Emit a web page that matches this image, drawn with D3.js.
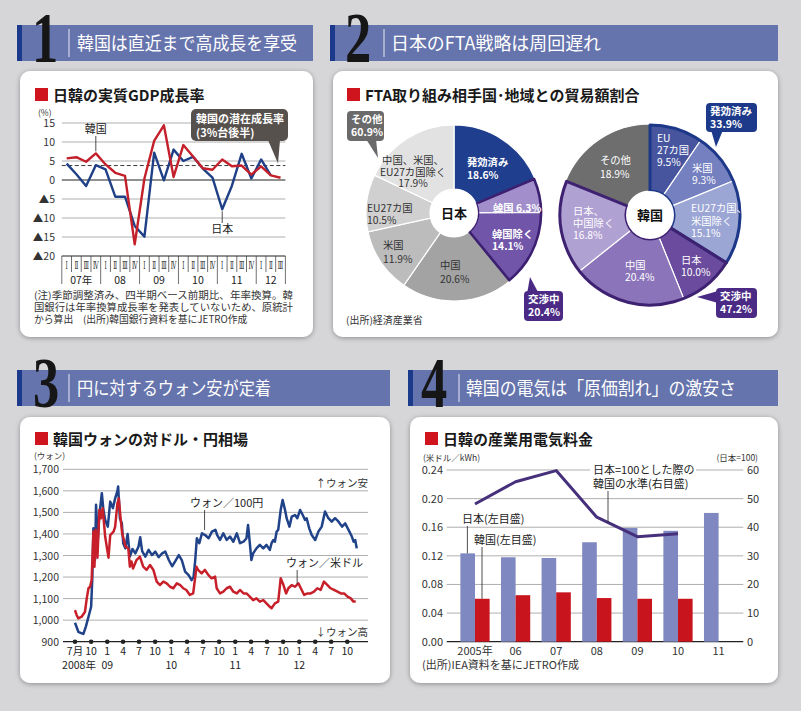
<!DOCTYPE html>
<html><head><meta charset="utf-8">
<script src="https://cdn.jsdelivr.net/npm/d3@7/dist/d3.min.js"></script>
<style>
html,body{margin:0;padding:0;background:#d6d6d8;}
svg{display:block;font-family:"Noto Sans CJK JP","Noto Sans",sans-serif;}
</style></head><body>
<svg id="c" width="801" height="711"></svg>
<script>
// ================= DATA =================
const headerNumbers = ["1","2","3","4"];
const headerTitles = ["韓国は直近まで高成長を享受","日本のFTA戦略は周回遅れ","円に対するウォン安が定着","韓国の電気は「原価割れ」の激安さ"];
const chartTitles = ["日韓の実質GDP成長率","FTA取り組み相手国･地域との貿易額割合","韓国ウォンの対ドル・円相場","日韓の産業用電気料金"];

// Chart 1: real GDP growth (quarterly, annualized %)
const gdpYearLabels = ["07年","08","09","10","11","12"];
const gdpQuarterLabels = ["Ⅰ","Ⅱ","Ⅲ","Ⅳ"];
const gdpKorea = [5.7,6.0,4.8,7.0, 4.1,1.9,1.1,-16.9, 0.4,10.3,14.4,0.8, 9.2,6.2,3.1,2.7, 5.4,3.6,3.8,1.4, 3.6,1.2,0.6];
const gdpJapan = [4.3,1.5,-1.6,3.9, 2.8,-4.4,-4.4,-12.1, -14.9,7.2,-0.1,8.0, 5.0,6.1,3.0,0.6, -7.7,-1.5,6.9,0.4, 5.4,1.2];
const gdpPotential = 3.8;
const gdpTicks = [15,10,5,0,-5,-10,-15,-20];
const gdpNotes = ["(注)季節調整済み、四半期ベース前期比、年率換算。韓","国銀行は年率換算成長率を発表していないため、原統計","から算出　(出所)韓国銀行資料を基にJETRO作成"];

// Chart 2: FTA trade shares
const ftaJapanNames = [["発効済み"],["韓国"],["韓国除く"],["中国"],["米国"],["EU27カ国"],["中国、米国、","EU27カ国除く"]];
const ftaJapanValues = [18.6,6.3,14.1,20.6,11.9,10.5,17.9];
const ftaJapanGroups = [["その他","60.9%"],["交渉中","20.4%"]];
const ftaKoreaNames = [["EU","27カ国"],["米国"],["EU27カ国、","米国除く"],["日本"],["中国"],["日本、","中国除く"],["その他"]];
const ftaKoreaValues = [9.5,9.3,15.1,10.0,20.4,16.8,18.9];
const ftaKoreaGroups = [["発効済み","33.9%"],["交渉中","47.2%"]];

// Chart 3: won exchange rates
const wonJpy = [["2008-07-01",988],["2008-07-20",946],["2008-08-08",939],["2008-08-18",936],["2008-09-01",970],["2008-09-16",1016],["2008-10-01",1062],["2008-10-08",1200],["2008-10-14",1426],["2008-10-23",1279],["2008-10-29",1535],["2008-11-08",1372],["2008-11-16",1480],["2008-12-01",1589],["2008-12-10",1511],["2008-12-20",1465],["2009-01-04",1434],["2009-01-18",1550],["2009-02-02",1520],["2009-02-15",1565],["2009-02-28",1600],["2009-03-04",1620],["2009-03-14",1473],["2009-03-25",1450],["2009-04-02",1357],["2009-04-14",1333],["2009-04-27",1400],["2009-05-10",1295],["2009-05-25",1330],["2009-06-10",1310],["2009-06-28",1341],["2009-07-08",1385],["2009-07-19",1320],["2009-08-06",1295],["2009-08-25",1326],["2009-09-13",1302],["2009-10-02",1318],["2009-10-21",1292],["2009-11-10",1310],["2009-11-28",1318],["2009-12-18",1279],["2010-01-06",1250],["2010-01-25",1275],["2010-02-13",1302],["2010-03-02",1279],["2010-03-21",1225],["2010-04-10",1209],["2010-04-27",1186],["2010-05-08",1200],["2010-05-17",1272],["2010-05-27",1380],["2010-06-10",1357],["2010-06-25",1403],["2010-07-13",1395],["2010-08-02",1380],["2010-08-21",1411],["2010-09-10",1419],["2010-09-20",1395],["2010-10-06",1372],["2010-10-25",1403],["2010-11-13",1372],["2010-12-02",1388],["2010-12-21",1364],["2011-01-10",1403],["2011-01-28",1357],["2011-02-17",1364],["2011-03-06",1380],["2011-03-15",1442],["2011-03-25",1357],["2011-04-03",1279],["2011-04-13",1310],["2011-05-02",1333],["2011-05-21",1349],["2011-06-10",1333],["2011-06-28",1349],["2011-07-17",1326],["2011-07-27",1357],["2011-08-06",1372],["2011-08-15",1364],["2011-08-25",1411],["2011-09-03",1419],["2011-09-17",1511],["2011-09-28",1558],["2011-10-12",1511],["2011-10-21",1473],["2011-11-06",1434],["2011-11-19",1480],["2011-12-08",1488],["2011-12-21",1473],["2012-01-06",1511],["2012-01-21",1488],["2012-02-03",1465],["2012-02-12",1473],["2012-02-27",1426],["2012-03-12",1395],["2012-04-01",1372],["2012-04-19",1411],["2012-05-08",1434],["2012-05-27",1504],["2012-06-15",1473],["2012-07-04",1457],["2012-07-23",1473],["2012-08-12",1457],["2012-09-01",1434],["2012-09-19",1449],["2012-10-08",1419],["2012-10-27",1388],["2012-11-06",1364],["2012-11-15",1372],["2012-11-24",1333]];
const wonUsd = [["2008-07-01",1047],["2008-07-10",1024],["2008-07-20",1008],["2008-08-08",1016],["2008-08-27",1039],["2008-09-06",1101],["2008-09-16",1148],["2008-09-25",1155],["2008-10-04",1186],["2008-10-14",1411],["2008-10-20",1248],["2008-10-27",1419],["2008-11-06",1290],["2008-11-17",1511],["2008-11-26",1473],["2008-12-06",1519],["2008-12-20",1388],["2008-12-29",1341],["2009-01-08",1290],["2009-01-18",1395],["2009-02-06",1411],["2009-02-15",1434],["2009-02-28",1542],["2009-03-08",1565],["2009-03-17",1480],["2009-03-27",1403],["2009-04-06",1372],["2009-04-15",1341],["2009-05-01",1333],["2009-05-10",1248],["2009-05-19",1272],["2009-05-28",1240],["2009-06-17",1279],["2009-07-06",1295],["2009-07-25",1248],["2009-08-13",1233],["2009-09-02",1256],["2009-09-21",1233],["2009-10-10",1179],["2009-10-28",1163],["2009-11-17",1179],["2009-12-06",1171],["2009-12-25",1155],["2010-01-13",1148],["2010-02-02",1171],["2010-02-21",1163],["2010-03-10",1148],["2010-03-28",1140],["2010-04-17",1117],["2010-05-06",1124],["2010-05-25",1248],["2010-06-03",1233],["2010-06-23",1217],["2010-07-12",1233],["2010-08-01",1209],["2010-08-19",1194],["2010-09-08",1202],["2010-09-17",1148],["2010-10-06",1124],["2010-10-25",1132],["2010-11-13",1148],["2010-12-02",1155],["2010-12-21",1132],["2011-01-10",1124],["2011-01-28",1140],["2011-02-17",1124],["2011-03-06",1124],["2011-03-25",1109],["2011-04-13",1093],["2011-05-02",1101],["2011-05-21",1086],["2011-06-10",1093],["2011-06-28",1078],["2011-07-17",1062],["2011-07-27",1055],["2011-08-15",1078],["2011-09-03",1086],["2011-09-17",1194],["2011-10-03",1163],["2011-10-18",1124],["2011-10-31",1148],["2011-11-19",1163],["2011-12-08",1155],["2011-12-27",1171],["2012-01-10",1148],["2012-01-29",1117],["2012-02-17",1124],["2012-03-06",1124],["2012-03-25",1132],["2012-04-13",1148],["2012-05-02",1140],["2012-05-21",1179],["2012-06-10",1163],["2012-06-28",1148],["2012-07-17",1140],["2012-08-06",1132],["2012-08-25",1124],["2012-09-13",1124],["2012-10-02",1109],["2012-10-21",1101],["2012-11-05",1086],["2012-11-18",1086]];
const wonTicks = [900,1000,1100,1200,1300,1400,1500,1600,1700];
const wonMonthLabels = ["7月","10","1","4","7","10","1","4","7","10","1","4","7","10","1","4","7","10"];
const wonYearLabels = [["2008-07-01","2008年"],["2009-01-01","09"],["2010-01-01","10"],["2011-01-01","11"],["2012-01-01","12"]];
const wonSeriesLabels = ["ウォン／100円","ウォン／米ドル"];

// Chart 4: industrial electricity price
const elecYears = ["2005年","06","07","08","09","10","11"];
const elecJapan = [0.1235,0.118,0.117,0.139,0.159,0.155,0.180];
const elecKorea = [0.060,0.065,0.069,0.061,0.060,0.060,null];
const elecRatio = [48.1,55.9,59.8,43.5,36.7,37.7];
const elecLeftTicks = [0,0.04,0.08,0.12,0.16,0.20,0.24];
const elecRightTicks = [0,10,20,30,40,50,60];

// ================= DRAW =================
const svg = d3.select("#c");
const defs = svg.append("defs");
const flt = defs.append("filter").attr("id","sh").attr("x","-5%").attr("y","-5%").attr("width","110%").attr("height","112%");
flt.append("feDropShadow").attr("dx",0).attr("dy",1).attr("stdDeviation",2.5).attr("flood-color","#000").attr("flood-opacity",0.35);

function txt(g, x, y, s, o) {
  o = o || {};
  const t = g.append("text").attr("x",x).attr("y",y).text(s)
    .attr("font-size", o.size || 11).attr("fill", o.fill || "#222")
    .attr("text-anchor", o.anchor || "start");
  if (o.weight) t.attr("font-weight", o.weight);
  if (o.len) t.attr("textLength", o.len).attr("lengthAdjust","spacingAndGlyphs");
  return t;
}

// ---- headers ----
const HB = "#6674ad", STRIPE = "#1b3a8c";
const headers = [
  {x0:17,x1:313,y0:25,numX:45,sepX:69,tX:77,tLen:220},
  {x0:330,x1:778,y0:25,numX:358,sepX:384,tX:391,tLen:210},
  {x0:17,x1:390,y0:370,numX:46,sepX:69,tX:77,tLen:194},
  {x0:408,x1:778,y0:370,numX:434,sepX:459,tX:466,tLen:270}
];
headers.forEach((h,i)=>{
  svg.append("rect").attr("x",h.x0).attr("y",h.y0).attr("width",h.x1-h.x0).attr("height",36).attr("fill",HB);
  svg.append("rect").attr("x",h.x0).attr("y",h.y0).attr("width",5).attr("height",36).attr("fill",STRIPE);
  svg.append("text").attr("transform",`translate(${h.numX},${h.y0+37}) scale(0.82,1.12)`)
    .attr("text-anchor","middle").attr("font-family","Liberation Serif, DejaVu Serif, serif")
    .attr("font-weight","bold").attr("font-size",64).attr("fill","#161616").text(headerNumbers[i]);
  svg.append("line").attr("x1",h.sepX).attr("x2",h.sepX).attr("y1",h.y0+4).attr("y2",h.y0+32)
    .attr("stroke","#e8eaf4").attr("stroke-width",1);
  txt(svg,h.tX,h.y0+25,headerTitles[i],{size:18,fill:"#fff",len:h.tLen});
});

// ---- cards ----
const cards = [[20,71,293,266],[333,71,445,266],[20,417,370,266],[410,417,368,266]];
cards.forEach(c=>{
  svg.append("rect").attr("x",c[0]).attr("y",c[1]).attr("width",c[2]).attr("height",c[3])
    .attr("rx",10).attr("fill","#fff").attr("filter","url(#sh)");
});
const titlePos = [[35,88],[347,88],[35,432],[425,432]];
titlePos.forEach((p,i)=>{
  svg.append("rect").attr("x",p[0]).attr("y",p[1]).attr("width",13).attr("height",13).attr("fill","#d0141e");
  txt(svg,p[0]+18,p[1]+13,chartTitles[i],{size:15,weight:"bold",fill:"#1a1a1a"});
});

// ================= Chart 1 =================
(function(){
  const g = svg.append("g");
  const x = d3.scaleLinear().domain([-0.5,22.5]).range([61.8,285.4]);
  const y = d3.scaleLinear().domain([-20,15]).range([256,123]);
  gdpTicks.forEach(v=>{
    const dark = (v===0||v===-20);
    g.append("line").attr("x1",x(-0.5)).attr("x2",x(22.5)).attr("y1",y(v)).attr("y2",y(v))
      .attr("stroke",dark?"#222":"#8c8c8c").attr("stroke-width",dark?1.1:0.7);
    txt(g,55,y(v)+4,v<0?"▲"+(-v):String(v),{size:10.5,anchor:"end",fill:"#333"});
  });
  txt(g,38,116,"(%)",{size:8.5,fill:"#333"});
  for(let i=0;i<=23;i++){
    const xb = x(i-0.5);
    const yearB = (i%4===0 || i===23);
    g.append("line").attr("x1",xb).attr("x2",xb).attr("y1",256).attr("y2",yearB?284:272)
      .attr("stroke","#333").attr("stroke-width",0.7);
  }
  for(let i=0;i<23;i++){
    g.append("text").attr("transform",`translate(${x(i)},269) scale(0.7,1.3)`)
      .attr("text-anchor","middle").attr("font-size",8).attr("fill","#222")
      .attr("font-family","DejaVu Serif, serif").text(gdpQuarterLabels[i%4]);
  }
  gdpYearLabels.forEach((s,k)=>{
    const a = x(4*k-0.5), b = x(Math.min(4*k+3.5,22.5));
    txt(g,(a+b)/2,284,s,{size:10.5,anchor:"middle",fill:"#222"});
  });
  g.append("line").attr("x1",x(-0.5)).attr("x2",x(22.5)).attr("y1",y(gdpPotential)).attr("y2",y(gdpPotential))
    .attr("stroke","#222").attr("stroke-width",0.9).attr("stroke-dasharray","4,2.5");
  const line = d3.line().x((d,i)=>x(i)).y(d=>y(d));
  g.append("path").attr("d",line(gdpJapan)).attr("fill","none").attr("stroke","#1f3f86").attr("stroke-width",2.4).attr("stroke-linejoin","round");
  g.append("path").attr("d",line(gdpKorea)).attr("fill","none").attr("stroke","#c4202b").attr("stroke-width",2.4).attr("stroke-linejoin","round");
  txt(g,x(3),133,"韓国",{size:11,anchor:"middle"});
  g.append("line").attr("x1",x(3)).attr("x2",x(3)).attr("y1",136).attr("y2",y(gdpKorea[3])-2).attr("stroke","#222").attr("stroke-width",0.8);
  txt(g,x(16),233,"日本",{size:11,anchor:"middle"});
  g.append("line").attr("x1",x(16)).attr("x2",x(16)).attr("y1",y(gdpJapan[16])+2).attr("y2",223).attr("stroke","#222").attr("stroke-width",0.8);
  g.append("rect").attr("x",191).attr("y",109).attr("width",97).attr("height",32).attr("rx",5).attr("fill","#57514e");
  g.append("path").attr("d",`M268,140 L280,140 L278,${y(gdpPotential)-2} Z`).attr("fill","#57514e");
  txt(g,196,123,"韓国の潜在成長率",{size:11,fill:"#fff",weight:"bold"});
  txt(g,196,137,"(3%台後半)",{size:11,fill:"#fff",weight:"bold"});
  gdpNotes.forEach((s,i)=>txt(g,34,299+i*11.8,s,{size:9.8,fill:"#333",len: i<2?259:null}));
})();

// ================= Chart 2 =================
(function(){
  const g = svg.append("g");
  const pie = d3.pie().sort(null).value(d=>d);
  function donut(cx,cy,r,values,colors,groups){
    const gg = g.append("g").attr("transform",`translate(${cx},${cy})`);
    const arcs = pie(values);
    const arc = d3.arc().innerRadius(24).outerRadius(r);
    gg.selectAll("path.s").data(arcs).join("path").attr("class","s").attr("d",arc)
      .attr("fill",(d,i)=>colors[i]).attr("stroke","#fff").attr("stroke-width",1.2);
    groups.forEach(gr=>{
      const a = {startAngle:arcs[gr.from].startAngle,endAngle:arcs[gr.to].endAngle};
      gg.append("path").attr("d",d3.arc().innerRadius(24).outerRadius(r-1)(a))
        .attr("fill","none").attr("stroke",gr.color).attr("stroke-width",gr.w).attr("stroke-linejoin","round");
    });
    gg.append("circle").attr("r",24).attr("fill","#fff");
    return gg;
  }
  const jc = ["#1f3e8e","#a18ecb","#7155a9","#a3a3a3","#bcbcbc","#d0d0d0","#e2e2e2"];
  const gj = donut(454,213,88,ftaJapanValues,jc,[{from:1,to:2,color:"#3c1f70",w:2.6}]);
  txt(gj,0,5,"日本",{size:13,weight:"bold",anchor:"middle",fill:"#111"});
  const jl = [
    {x:467,y:166,a:"start",lh:13,c:"#fff",w:"bold"},
    {x:493,y:212,a:"start",inline:true,c:"#fff",w:"bold"},
    {x:492,y:238,a:"start",lh:12,c:"#fff",w:"bold"},
    {x:440,y:269,a:"start",lh:14,c:"#333"},
    {x:383,y:248.5,a:"start",lh:14,c:"#333"},
    {x:367,y:211.5,a:"start",lh:12,c:"#333"},
    {x:413,y:164,a:"middle",lh:11.7,c:"#333"}
  ];
  function labels(names,values,lay){
    lay.forEach((L,i)=>{
      const v = values[i].toFixed(1)+"%";
      const lines = L.inline ? [names[i][0]+" "+v] : names[i].concat([v]);
      lines.forEach((s,k)=>txt(g,L.x,L.y+k*(L.lh||0),s,{size:10.3,anchor:L.a,fill:L.c,weight:L.w}));
    });
  }
  labels(ftaJapanNames,ftaJapanValues,jl);
  const kc = ["#47559f","#7480bf","#9ca6d5","#6a4b9d","#8b74ba","#b0a1d3","#6e6e6e"];
  const gk = donut(650,215,91,ftaKoreaValues,kc,[
    {from:0,to:2,color:"#1d3888",w:3},{from:3,to:5,color:"#3f2171",w:3}]);
  txt(gk,0,5,"韓国",{size:13,weight:"bold",anchor:"middle",fill:"#111"});
  const kl = [
    {x:657,y:142,a:"start",lh:11.8,c:"#fff"},
    {x:692,y:172,a:"start",lh:12,c:"#fff"},
    {x:691,y:212,a:"start",lh:12.7,c:"#fff"},
    {x:681,y:263.5,a:"start",lh:12.5,c:"#fff"},
    {x:625,y:268.5,a:"start",lh:12.5,c:"#fff"},
    {x:573,y:215,a:"start",lh:12,c:"#fff"},
    {x:600,y:164,a:"start",lh:13.5,c:"#fff"}
  ];
  labels(ftaKoreaNames,ftaKoreaValues,kl);
  function callout(bx,by,bw,bh,fill,pts,lines){
    g.append("path").attr("d","M"+pts.map(p=>p.join(",")).join("L")+"Z").attr("fill",fill);
    g.append("rect").attr("x",bx).attr("y",by).attr("width",bw).attr("height",bh).attr("rx",4).attr("fill",fill);
    lines.forEach((s,k)=>txt(g,bx+4,by+12+k*12.5,s,{size:10.5,fill:"#fff",weight:"bold"}));
  }
  callout(347,111,37,30,"#6a6a6a",[[366,139],[376,139],[378,158]],ftaJapanGroups[0]);
  callout(524,291,39,30,"#4a2a84",[[527,294],[539,294],[530,277]],ftaJapanGroups[1]);
  callout(706,103,51,29,"#1d3a8a",[[711,130],[723,130],[716,147]],ftaKoreaGroups[0]);
  callout(716,288,41,30,"#4a2a84",[[718,291],[718,303],[697,297]],ftaKoreaGroups[1]);
  txt(g,346,324,"(出所)経済産業省",{size:10,fill:"#333"});
})();

// ================= Chart 3 =================
(function(){
  const g = svg.append("g");
  const parse = d3.timeParse("%Y-%m-%d");
  const x = d3.scaleTime().domain([new Date(2008,6,1),new Date(2012,9,1)]).range([75,347.3]);
  const y = d3.scaleLinear().domain([900,1700]).range([641.7,469.3]);
  wonTicks.forEach(v=>{
    g.append("line").attr("x1",63).attr("x2",368).attr("y1",y(v)).attr("y2",y(v))
      .attr("stroke",v===900?"#222":"#8c8c8c").attr("stroke-width",v===900?1.2:0.7);
    txt(g,59,y(v)+4,d3.format(",")(v),{size:10.5,anchor:"end",fill:"#333"});
  });
  txt(g,34,459,"(ウォン)",{size:8.5,fill:"#333"});
  const qDates = d3.timeMonth.every(3).range(new Date(2008,6,1),new Date(2012,10,1));
  qDates.forEach((d,i)=>{
    g.append("circle").attr("cx",x(d)).attr("cy",y(900)).attr("r",2.3).attr("fill","#222");
    txt(g,x(d),655,wonMonthLabels[i],{size:10.5,anchor:"middle",fill:"#222"});
  });
  wonYearLabels.forEach((p,i)=>{
    txt(g,x(parse(p[0]))+(i===0?4:0),669,p[1],{size:10.5,anchor:"middle",fill:"#222"});
  });
  const line = d3.line().x(d=>x(parse(d[0]))).y(d=>y(d[1]));
  g.append("path").attr("d",line(wonJpy)).attr("fill","none").attr("stroke","#1f4288").attr("stroke-width",2.5).attr("stroke-linejoin","round");
  g.append("path").attr("d",line(wonUsd)).attr("fill","none").attr("stroke","#c8202a").attr("stroke-width",2.5).attr("stroke-linejoin","round");
  txt(g,368,487,"↑ウォン安",{size:10.5,anchor:"end",fill:"#333"});
  txt(g,368,636,"↓ウォン高",{size:10.5,anchor:"end",fill:"#333"});
  const xb = x(parse("2010-07-10"));
  txt(g,190,507,wonSeriesLabels[0],{size:11,fill:"#222"});
  g.append("line").attr("x1",xb).attr("x2",xb).attr("y1",510).attr("y2",530).attr("stroke","#222").attr("stroke-width",0.8);
  const xr = x(parse("2011-12-20"));
  txt(g,286,567,wonSeriesLabels[1],{size:11,fill:"#222"});
  g.append("line").attr("x1",xr).attr("x2",xr).attr("y1",570).attr("y2",584).attr("stroke","#222").attr("stroke-width",0.8);
})();

// ================= Chart 4 =================
(function(){
  const g = svg.append("g");
  const x = d3.scalePoint().domain(elecYears).range([475,718.6]);
  const yL = d3.scaleLinear().domain([0,0.24]).range([641.7,470]);
  const yR = d3.scaleLinear().domain([0,60]).range([641.7,470]);
  const bw = x.step()*0.36;
  elecLeftTicks.forEach(v=>{
    g.append("line").attr("x1",446.7).attr("x2",743.3).attr("y1",yL(v)).attr("y2",yL(v))
      .attr("stroke",v===0?"#222":"#8c8c8c").attr("stroke-width",v===0?1.2:0.7);
    txt(g,443,yL(v)+4,v.toFixed(2),{size:11,anchor:"end",fill:"#333"});
  });
  elecRightTicks.forEach(v=>txt(g,747,yR(v)+4,String(v),{size:11,fill:"#333"}));
  txt(g,423,461,"(米ドル／kWh)",{size:8.5,fill:"#333"});
  txt(g,758,461,"(日本=100)",{size:8.5,anchor:"end",fill:"#333"});
  elecYears.forEach((yr,i)=>{
    g.append("rect").attr("x",x(yr)-bw).attr("y",yL(elecJapan[i])).attr("width",bw).attr("height",yL(0)-yL(elecJapan[i])).attr("fill","#8088c1");
    if(elecKorea[i]!=null)
      g.append("rect").attr("x",x(yr)).attr("y",yL(elecKorea[i])).attr("width",bw).attr("height",yL(0)-yL(elecKorea[i])).attr("fill","#c8141d");
    txt(g,x(yr),655,yr,{size:11,anchor:"middle",fill:"#333"});
  });
  g.append("path").attr("d",d3.line().x((d,i)=>x(elecYears[i])).y(d=>yR(d))(elecRatio))
    .attr("fill","none").attr("stroke","#46307c").attr("stroke-width",3).attr("stroke-linejoin","round");
  g.append("rect").attr("x",590).attr("y",463).attr("width",106).attr("height",28).attr("fill","#fff");
  txt(g,593,474,"日本=100とした際の",{size:11,fill:"#222"});
  txt(g,593,488,"韓国の水準(右目盛)",{size:11,fill:"#222"});
  g.append("line").attr("x1",608).attr("x2",608).attr("y1",491).attr("y2",523).attr("stroke","#222").attr("stroke-width",0.8);
  const xj = x(elecYears[0])-bw+7, xk = x(elecYears[0])+7;
  txt(g,462,523,"日本(左目盛)",{size:11,fill:"#222"});
  g.append("line").attr("x1",xj).attr("x2",xj).attr("y1",526).attr("y2",yL(elecJapan[0])).attr("stroke","#222").attr("stroke-width",0.8);
  txt(g,474,544,"韓国(左目盛)",{size:11,fill:"#222"});
  g.append("line").attr("x1",xk).attr("x2",xk).attr("y1",547).attr("y2",yL(elecKorea[0])).attr("stroke","#222").attr("stroke-width",0.8);
  txt(g,422,669,"(出所)IEA資料を基にJETRO作成",{size:11,fill:"#333"});
})();
</script></body></html>
